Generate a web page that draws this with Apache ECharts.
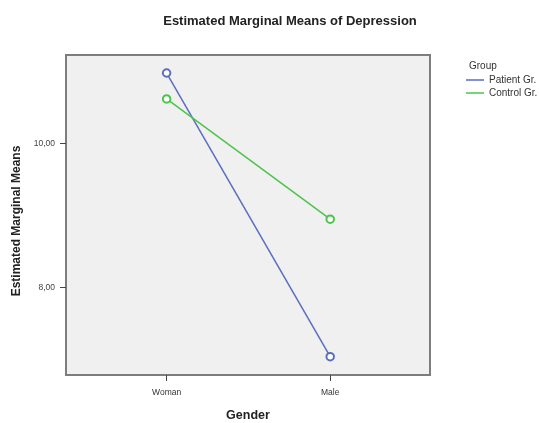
<!DOCTYPE html>
<html><head><meta charset="utf-8">
<script src="https://cdn.jsdelivr.net/npm/echarts@6/dist/echarts.min.js"></script>
<style>html,body{margin:0;padding:0;background:#fff}#c{width:539px;height:423px}</style>
</head><body><div id="c"></div>
<script>
const categories = ['Woman', 'Male'];
const patientValues = [10.98, 7.04];
const controlValues = [10.62, 8.95];
const yTickValues = [8, 10];
const seriesNames = ['Patient Gr.', 'Control Gr.'];

const chart = echarts.init(document.getElementById('c'));
const toPairs = vals => vals.map((v, i) => [i, v]);
const fmt = v => v.toFixed(2).replace('.', ',');
const font = 'Liberation Sans, Arial, sans-serif';

chart.setOption({
  animation: false,
  title: {
    text: 'Estimated Marginal Means of Depression',
    left: 285, top: 10, textAlign: 'center',
    textStyle: {fontFamily: font, fontSize: 13, fontWeight: 'bold', color: '#222'}
  },
  legend: {
    orient: 'vertical', left: 461, top: 69, itemGap: 1,
    itemWidth: 18, itemHeight: 1.5, icon: 'rect',
    itemStyle: {borderWidth: 0},
    data: seriesNames,
    textStyle: {fontFamily: font, fontSize: 10, color: '#333', lineHeight: 12}
  },
  graphic: [{
    type: 'text', left: 469, top: 61,
    style: {text: 'Group', fontFamily: font, fontSize: 10, fill: '#333'}
  }],
  grid: {
    left: 66, right: 109, top: 55, bottom: 48,
    outerBoundsMode: 'none', containLabel: false,
    show: true, backgroundColor: '#f0f0f0', borderColor: '#7d7d7d', borderWidth: 2
  },
  xAxis: {
    type: 'value', min: -0.615, max: 1.61,
    name: 'Gender', nameLocation: 'middle', nameGap: 34,
    nameTextStyle: {fontFamily: font, fontSize: 12.5, fontWeight: 'bold', color: '#222'},
    axisLine: {show: false, onZero: false}, splitLine: {show: false},
    axisTick: {show: true, customValues: [0, 1], length: 6, lineStyle: {color: '#444'}},
    axisLabel: {customValues: [0, 1], formatter: v => categories[Math.round(v)] || '',
      fontFamily: font, fontSize: 8.5, color: '#333', margin: 13}
  },
  yAxis: {
    type: 'value', min: 6.786, max: 11.23,
    name: 'Estimated Marginal Means', nameLocation: 'middle', nameGap: 41, nameRotate: 90,
    nameTextStyle: {fontFamily: font, fontSize: 12, fontWeight: 'bold', color: '#222', padding: [0, 12, 0, 0]},
    axisLine: {show: false, onZero: false}, splitLine: {show: false},
    axisTick: {show: true, customValues: yTickValues, length: 6, lineStyle: {color: '#444'}},
    axisLabel: {customValues: yTickValues, formatter: v => fmt(v),
      fontFamily: font, fontSize: 8.5, color: '#444', margin: 11}
  },
  series: [
    {name: seriesNames[0], type: 'line', data: toPairs(patientValues),
     symbol: 'emptyCircle', symbolSize: 7.5, color: '#5b6dbf',
     lineStyle: {width: 1.5, color: '#5b6dbf'}, itemStyle: {borderWidth: 1.3, color: '#5b6dbf', borderColor: '#5b6dbf'}},
    {name: seriesNames[1], type: 'line', data: toPairs(controlValues),
     symbol: 'emptyCircle', symbolSize: 7.5, color: '#4cc44c',
     lineStyle: {width: 1.5, color: '#4cc44c'}, itemStyle: {borderWidth: 1.3, color: '#4cc44c', borderColor: '#4cc44c'}}
  ]
});
</script></body></html>
